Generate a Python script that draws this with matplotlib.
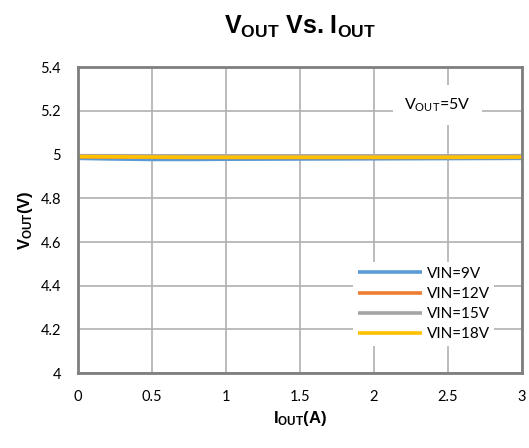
import matplotlib

matplotlib.use("Agg")
import matplotlib.pyplot as plt
from matplotlib import font_manager
from matplotlib.ticker import FuncFormatter

# Load current (A)
iout = [0.0, 0.25, 0.5, 0.75, 1.0, 1.5, 2.0, 2.5, 3.0]
# Output voltage per input voltage
vin9 = [4.983, 4.980, 4.978, 4.978, 4.979, 4.980, 4.981, 4.982, 4.983]
vin12 = [4.990, 4.989, 4.988, 4.987, 4.987, 4.987, 4.987, 4.987, 4.988]
vin15 = [4.995, 4.995, 4.994, 4.994, 4.994, 4.994, 4.994, 4.994, 4.995]
vin18 = [4.991, 4.990, 4.989, 4.988, 4.988, 4.988, 4.988, 4.988, 4.989]
series = [
    ("VIN=9V", vin9, "#5b9bd5"),
    ("VIN=12V", vin12, "#ed7d31"),
    ("VIN=15V", vin15, "#a5a5a5"),
    ("VIN=18V", vin18, "#ffc000"),
]
x_ticks = [0, 0.5, 1, 1.5, 2, 2.5, 3]
y_ticks = [4, 4.2, 4.4, 4.6, 4.8, 5, 5.2, 5.4]

# pick a narrow sans for the headings if one is installed
narrow = "Liberation Sans"
try:
    font_manager.findfont("Liberation Sans Narrow", fallback_to_default=False)
    narrow = "Liberation Sans Narrow"
except ValueError:
    pass
body = "Lato"

plt.rcParams["mathtext.fontset"] = "custom"
plt.rcParams["mathtext.rm"] = narrow
plt.rcParams["mathtext.bf"] = f"{narrow}:bold"
plt.rcParams["mathtext.it"] = f"{narrow}:italic"

fig = plt.figure(figsize=(5.29, 4.48), dpi=100)
ax = fig.add_axes([0.147, 0.167, 0.840, 0.683])

for label, v, color in series:
    ax.plot(iout, v, color=color, linewidth=2.6, label=label, solid_capstyle="butt")

ax.set_xlim(0, 3)
ax.set_ylim(4, 5.4)
ax.set_xticks(x_ticks)
ax.set_yticks(y_ticks)
ax.xaxis.set_major_formatter(FuncFormatter(lambda v, _: f"{v:g}"))
ax.yaxis.set_major_formatter(FuncFormatter(lambda v, _: f"{v:g}"))
ax.grid(True, color="#b0b0b0", linewidth=1.2)
ax.set_axisbelow(True)
ax.tick_params(length=0, pad=12, labelsize=10.5)
for lbl in ax.get_xticklabels() + ax.get_yticklabels():
    lbl.set_family([body, "DejaVu Sans"])
for sp in ax.spines.values():
    sp.set_color("#7f7f7f")
    sp.set_linewidth(2.0)

ax.set_title(r"$\mathbf{V_{OUT}}$ Vs. $\mathbf{I_{OUT}}$", fontsize=18, fontweight="bold",
             family=narrow, pad=24)
ax.set_xlabel(r"$\mathbf{I_{OUT}}$(A)", fontsize=12, fontweight="bold", family=narrow)
ax.set_ylabel(r"$\mathbf{V_{OUT}}$(V)", fontsize=12, fontweight="bold", family=narrow)

ax.text(0.81, 0.876, r"V$_{\mathregular{OUT}}$=5V", transform=ax.transAxes, ha="center",
        va="center", fontsize=11.5, family=[body, "DejaVu Sans"],
        bbox=dict(facecolor="white", edgecolor="none", pad=8))

leg = ax.legend(loc="lower right", bbox_to_anchor=(0.955, 0.065), frameon=True, fancybox=False,
                edgecolor="none", framealpha=1.0, prop={"family": [body, "DejaVu Sans"], "size": 11},
                handlelength=4.2, labelspacing=0.4, borderpad=0.3, handletextpad=0.3)

fig.savefig("out.png", dpi=100)
plt.close(fig)
